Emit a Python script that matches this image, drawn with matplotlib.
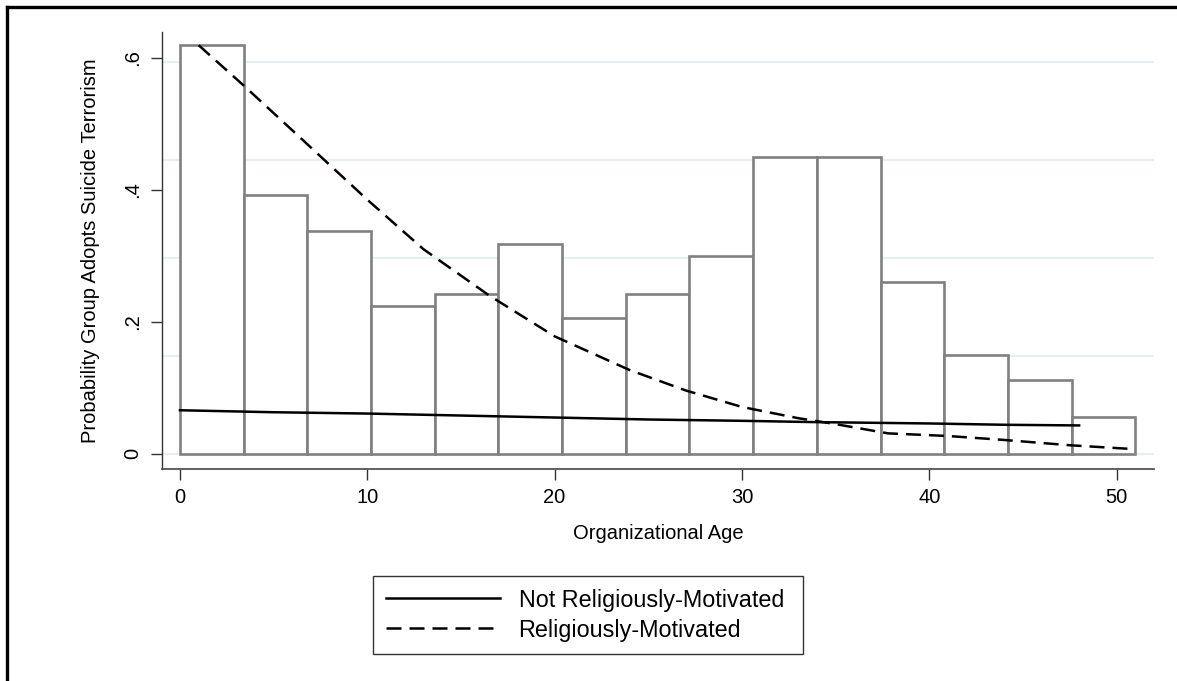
import matplotlib
matplotlib.use('Agg')

import numpy as np
import matplotlib.pyplot as plt
from matplotlib.lines import Line2D

plt.rcParams['font.family'] = ['Liberation Sans', 'DejaVu Sans']

# histogram of organizational age (15 bins over 0..51)
bin_edges = np.linspace(0, 51, 16)
bar_heights = [0.619, 0.392, 0.337, 0.224, 0.242, 0.318, 0.206, 0.242,
               0.300, 0.449, 0.449, 0.261, 0.150, 0.112, 0.056]

# predicted probability, not religiously motivated
not_rel_age = [0, 5, 10, 15, 20, 25, 30, 34, 40, 44, 48]
not_rel_prob = [0.066, 0.063, 0.061, 0.058, 0.055, 0.052, 0.050, 0.048, 0.046, 0.044, 0.043]

# predicted probability, religiously motivated
rel_age = [1, 3.4, 6, 10, 13, 16.5, 20, 24, 27, 30, 33, 35, 37.8, 41, 44, 47.5, 51]
rel_prob = [0.619, 0.558, 0.490, 0.385, 0.310, 0.240, 0.178, 0.127, 0.096,
            0.071, 0.054, 0.045, 0.031, 0.027, 0.021, 0.013, 0.007]

# faint horizontal grid (from the histogram's own scale)
grid_levels = [0, 0.1485, 0.297, 0.4455, 0.594]

y_ticks = [0, 0.2, 0.4, 0.6]
y_ticklabels = ['0', '.2', '.4', '.6']
x_ticks = [0, 10, 20, 30, 40, 50]

fig = plt.figure(figsize=(11.77, 6.81), dpi=100)
ax = fig.add_axes([0.1376, 0.3113, 0.8429, 0.6417])

for g in grid_levels:
    ax.axhline(g, color='#e6eff1', lw=1.6, zorder=0)

widths = np.diff(bin_edges)
ax.bar(bin_edges[:-1], bar_heights, width=widths, align='edge',
       facecolor='white', edgecolor='#808080', linewidth=1.9, zorder=2)

ax.plot(not_rel_age, not_rel_prob, color='black', lw=1.8, zorder=3,
        label='Not Religiously-Motivated')
ax.plot(rel_age, rel_prob, color='black', lw=1.8, linestyle=(0, (6.0, 3.2)),
        zorder=3, label='Religiously-Motivated')

ax.set_xlim(-0.96, 52.0)
ax.set_ylim(-0.023, 0.639)

for side in ['top', 'right']:
    ax.spines[side].set_visible(False)
ax.spines['left'].set_color('#333333')
ax.spines['bottom'].set_color('#555555')
ax.spines['left'].set_linewidth(1.0)
ax.spines['bottom'].set_linewidth(1.3)

ax.set_yticks(y_ticks)
ax.set_yticklabels(y_ticklabels, rotation=90, va='center')
ax.set_xticks(x_ticks)
ax.tick_params(axis='both', length=8, width=1.0, color='#333333',
               labelsize=14.5, pad=6)

ax.set_xlabel('Organizational Age', fontsize=14.5, labelpad=12)
ax.set_ylabel('Probability Group Adopts Suicide Terrorism', fontsize=14.5, labelpad=17)

fig.legend(loc='upper left', bbox_to_anchor=(0.3167, 0.0416, 0.3655, 0.113),
           mode='expand', ncol=1, frameon=True, fancybox=False,
           edgecolor='black', fontsize=16.8, handlelength=4.9,
           handletextpad=0.8, borderpad=0.55, labelspacing=0.3,
           borderaxespad=0)
fig.legends[0].get_frame().set_linewidth(1.0)

# outer frame (top and left edges visible in the original)
fig.add_artist(Line2D([6.5 / 1177, 1.0], [1 - 6.5 / 681, 1 - 6.5 / 681],
                      transform=fig.transFigure, color='black', lw=2.4))
fig.add_artist(Line2D([6.5 / 1177, 6.5 / 1177], [0, 1 - 6.5 / 681],
                      transform=fig.transFigure, color='black', lw=2.4))

plt.savefig('out.png', dpi=100)
